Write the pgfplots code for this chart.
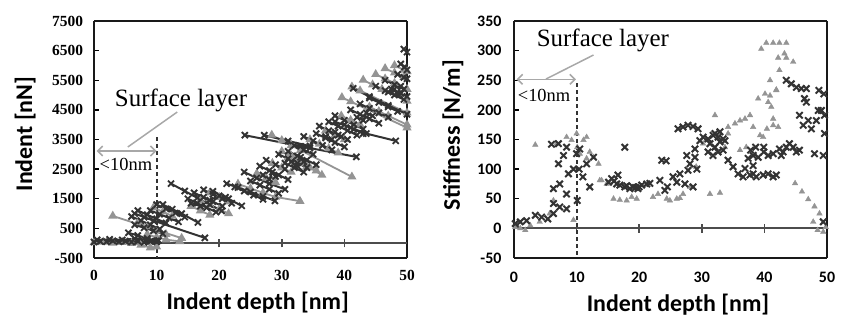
\documentclass[border=0pt]{standalone}
\usepackage{pgfplots}
\pgfplotsset{compat=1.18}
\usepackage{fontspec}
\setmainfont{Liberation Serif}
\newfontfamily\carlito{Carlito}
\usetikzlibrary{arrows.meta}
\definecolor{dk}{gray}{0.2}
\definecolor{gr}{gray}{0.58}
\definecolor{annot}{gray}{0.66}
\definecolor{zl}{gray}{0.3}

\pgfplotsset{
  common/.style={
    scale only axis, width=313bp, height=237bp,
    xmin=0, xmax=50, xtick={0,10,20,30,40,50}, xticklabels={0,10,20,30,40,50},
    xtick style={draw=none},
    ytick pos=left, tick align=inside, major tick length=5bp,
    ytick style={line width=1.4bp, black},
    separate axis lines,
    axis line style={line width=2.2bp, black!90},
    clip=false, unbounded coords=jump,
    label style={font=\carlito\bfseries\fontsize{24}{28}\selectfont},
    ylabel style={rotate=0, anchor=center},
    xlabel style={anchor=center},
  },
  dseg/.style={dk, line width=2bp, mark=x, mark size=4.3bp, mark options={line width=1.9bp, solid}},
  gseg/.style={gr, line width=1.8bp, mark=triangle*, mark size=3.5bp, mark options={solid}},
  dpt/.style={only marks, dk, mark=x, mark size=4.5bp, mark options={line width=2bp}},
  gpt/.style={only marks, gr, mark=triangle*, mark size=3.2bp},
}

\begin{document}
\begin{tikzpicture}
\path[use as bounding box] (0,0) rectangle (847bp,324bp);

% ---------------- left panel ----------------
\begin{axis}[common, at={(94bp,66bp)}, anchor=south west,
  ymin=-500, ymax=7500,
  ytick={-500,500,1500,2500,3500,4500,5500,6500,7500},
  yticklabels={-500,500,1500,2500,3500,4500,5500,6500,7500},
  xticklabel style={font=\bfseries\fontsize{15.5}{18}\selectfont, yshift=-9bp},
  yticklabel style={font=\bfseries\fontsize{15.5}{18}\selectfont, xshift=-7.5bp},
  xlabel={Indent depth [nm]},
  xlabel style={at={(axis description cs:0.523,0)}, yshift=-45bp},
  ylabel={Indent [nN]},
  ylabel style={at={(axis description cs:-0.220,0.523)}, rotate=0},
]
\draw[zl, line width=2bp] (axis cs:0,0) -- (axis cs:50,0);
\draw[zl, line width=1.6bp] (axis cs:10,-140) -- (axis cs:10,140);
\draw[zl, line width=1.6bp] (axis cs:20,-140) -- (axis cs:20,140);
\draw[zl, line width=1.6bp] (axis cs:30,-140) -- (axis cs:30,140);
\draw[zl, line width=1.6bp] (axis cs:40,-140) -- (axis cs:40,140);

\addplot[gseg] coordinates {
(0,20)(1.5,40)(3,10)(4.5,30)(6,0)(7.5,-60)(9,-150)(10,-120) (0,nan)
(3,920)(14,170) (0,nan)
(7,700)(8.5,560)(10,420)(11.5,300) (0,nan)
(9.5,1200)(11,1060)(12.5,920) (0,nan)
(8.5,300)(10,200)(11.5,120)(13.7,60) (0,nan)
(15.5,1250)(17,1100)(18.5,950) (0,nan)
(17,1450)(18.5,1300)(20,1150)(21.5,1000) (0,nan)
(18.5,1700)(20,1550)(21.5,1400) (0,nan)
(23,2000)(25,1850)(27,1700)(29,1560)(32.9,1420) (0,nan)
(26,2350)(27.5,2200)(29,2050) (0,nan)
(28.5,2700)(30,2550)(31.5,2400) (0,nan)
(28.4,3650)(30,3470)(31.5,3300)(33,3140)(41.2,2240) (0,nan)
(31,2900)(32.5,2750)(34,2600)(35.5,2450) (0,nan)
(33,2700)(34.5,2550)(36.4,2300) (0,nan)
(30,3100)(31.5,2950)(33,2800) (0,nan)
(34.5,3500)(36,3350)(37.5,3200)(39,3050) (0,nan)
(37,3800)(38.5,3650)(40,3500) (0,nan)
(39.5,4300)(41,4150)(42.5,4000) (0,nan)
(39.6,4920)(41,4780)(50,3900) (0,nan)
(41.2,5280)(42.5,5150)(50,4400) (0,nan)
(43,5510)(44.5,5350)(46,5200)(50,4800) (0,nan)
(45,5700)(46.5,5550)(48,5400)(50,5200) (0,nan)
(46.5,5900)(48,5750)(49.5,5600) (0,nan)
(48,6000)(49.5,5850)(50,5800) (0,nan)
(44,4600)(45.5,4450)(47,4300)(50,4000)
};

\addplot[dseg] coordinates {
(0,40)(1,60)(2,50)(3,80)(4,50)(5,70)(6,40)(7,70)(8,30)(9,60)(10,40) (0,nan)
(0.5,110)(2.5,130)(4.5,110)(6.5,150)(8.5,120)(10.3,90) (0,nan)
(5.5,350)(7,260)(8.5,160)(10,80) (0,nan)
(6.5,620)(8,520)(9.5,420)(11,320) (0,nan)
(6,900)(7.5,760)(9,620)(10.5,480) (0,nan)
(7,1100)(8.5,960)(10,820)(11.5,680) (0,nan)
(6.5,1000)(8,880)(9.5,760)(17.7,180) (0,nan)
(9,1100)(10.5,980)(12,850)(13.5,720) (0,nan)
(10,1300)(11.5,1160)(13,1020)(14.5,880) (0,nan)
(11,1300)(12.5,1150)(14,1000)(16.6,700) (0,nan)
(12.3,2010)(14.5,1760)(16.5,1530)(18.5,1300)(20.4,1090) (0,nan)
(15,1500)(16.5,1350)(18,1200)(19.5,1050) (0,nan)
(16,1700)(17.5,1550)(19,1400)(20.5,1250) (0,nan)
(17.5,1800)(19,1650)(20.5,1500)(22,1350) (0,nan)
(15.5,1350)(17,1250)(18.5,1450)(20,1600)(21.5,1500) (0,nan)
(19,1750)(21,1550)(23.6,1260) (0,nan)
(21.2,2010)(23,1880)(25,1730)(27,1580)(28.9,1430) (0,nan)
(24,2400)(26,2200)(28,2010)(30.5,1820) (0,nan)
(22.5,1900)(24,1760)(25.5,1620)(27,1480) (0,nan)
(25,2100)(26.5,1960)(28,1820)(29.5,1680) (0,nan)
(26.5,2600)(28,2450)(29.5,2300)(31,2150) (0,nan)
(27.5,2800)(29,2650)(30.5,2500) (0,nan)
(27,2300)(28,2150)(28.5,2400)(29,2250) (0,nan)
(29.5,3000)(31,2850)(32.5,2700)(34,2550) (0,nan)
(31,3100)(32.5,2950)(34,2800)(35.5,2650) (0,nan)
(30.5,2700)(32,2550)(33.5,2400) (0,nan)
(31.5,2750)(32.5,2600)(33,2900)(33.5,2750) (0,nan)
(32,3300)(33.5,3150)(35,3000) (0,nan)
(24.1,3645)(33,3270)(34.5,3210)(41.9,2914) (0,nan)
(27.2,3645)(31,3450)(34.5,3280) (0,nan)
(33.5,3600)(35,3450)(36.5,3300)(38,3150) (0,nan)
(35.5,3700)(37,3550)(38.5,3400)(40,3250) (0,nan)
(36,3950)(37.5,3800)(39,3650)(40.5,3500) (0,nan)
(37,3600)(38,3500)(38.5,3750)(39.5,3600) (0,nan)
(37.5,4100)(39,3950)(40.5,3800)(42,3650) (0,nan)
(38.5,4300)(40,4150)(41.5,4000)(43,3850) (0,nan)
(40,4000)(41.5,3850)(43,3700) (0,nan)
(38.5,4100)(41,3900)(43.5,3700)(48.2,3454) (0,nan)
(41,4500)(42.5,4350)(44,4200)(45.5,4050) (0,nan)
(42,4250)(43,4150)(43.5,4400)(44.5,4300) (0,nan)
(42.5,4700)(44,4550)(45.5,4400)(47,4250) (0,nan)
(44,4900)(45.5,4750)(47,4600)(48.5,4450) (0,nan)
(45,5300)(46.5,5150)(48,5000)(49.5,4850) (0,nan)
(46.5,5500)(48,5350)(49.5,5200) (0,nan)
(47,5100)(48,5200)(48.5,5050)(49,5300) (0,nan)
(47.5,5200)(49,5050)(50,4950) (0,nan)
(48.5,5700)(49.5,5600)(50,5550) (0,nan)
(49,6050)(49.6,5950)(50,5850) (0,nan)
(49.5,6550)(50,6450) (0,nan)
(41.4,5230)(44,4950)(47,4650)(50,4350)
};

\draw[dk, line width=2bp, dash pattern=on 4bp off 3bp] (axis cs:10,3584) -- (axis cs:10,-500);
\draw[annot, line width=1.6bp, {Straight Barb[length=5bp,width=10bp]}-{Straight Barb[length=5bp,width=10bp]}] (axis cs:0.4,3112) -- (axis cs:10,3112);
\draw[annot, line width=1.5bp] (axis cs:5.4,3247) -- (axis cs:13.3,4428);
\node[font=\fontsize{25}{30}\selectfont] at (axis cs:13.9,4833) {Surface layer};
\node[font=\fontsize{18.5}{22}\selectfont, fill=white, inner sep=0.5bp] at (axis cs:5.1,2673) {<10nm};
\end{axis}

% ---------------- right panel ----------------
\begin{axis}[common, at={(514bp,66bp)}, anchor=south west,
  ymin=-50, ymax=350,
  ytick={-50,0,50,100,150,200,250,300,350},
  yticklabels={-50,0,50,100,150,200,250,300,350},
  xticklabel style={font=\carlito\bfseries\fontsize{16}{19}\selectfont, yshift=-11bp},
  yticklabel style={font=\carlito\bfseries\fontsize{16}{19}\selectfont, xshift=-9bp},
  xlabel={Indent depth [nm]},
  xlabel style={at={(axis description cs:0.524,0)}, yshift=-47bp},
  ylabel={Stiffness [N/m]},
  ylabel style={at={(axis description cs:-0.195,0.519)}, rotate=0},
]
\draw[zl, line width=2bp] (axis cs:0,0) -- (axis cs:50,0);
\draw[zl, line width=1.6bp] (axis cs:10,-7) -- (axis cs:10,7);
\draw[zl, line width=1.6bp] (axis cs:20,-7) -- (axis cs:20,7);
\draw[zl, line width=1.6bp] (axis cs:30,-7) -- (axis cs:30,7);
\draw[zl, line width=1.6bp] (axis cs:40,-7) -- (axis cs:40,7);

\addplot[gpt] coordinates {
(0.2,2)(1,0)(1.8,-3)(2.6,5)(4.1,11)(5.7,25)(6.3,47)(3.4,141)(6.8,143)(8.4,154)(10,160)(9.2,149)(9.5,14)
(10.1,137)(11.1,149)(11.6,154)(10.5,126)(11.6,118)(12.1,129)(13.5,109)(14,81)(14.8,75)(12.7,120)(13.7,81)
(15.9,50)(16.9,48)(18,47)(18.8,53)(19.6,50)(22.2,53)(23,58)(24.4,50)(24.9,47)(26,50)(26.5,51)(27,58)(28.1,70)
(29.1,104)(30.2,143)(30.7,149)(31.3,58)(32.1,191)(32.9,60)(33.7,137)(34.2,160)(34.2,171)
(35.3,177)(36.1,182)(36.9,185)(37.7,191)(36.1,132)(37.1,137)(39.3,157)(39,219)(40.1,227)(40.9,224)
(40.6,213)(41.1,205)(41.4,185)(41.9,233)
(39.5,303)(40.3,313)(41.4,313)(42.4,313)(43.5,313)(43.2,295)(42.2,288)(43.5,288)(44.6,281)(42.4,267)
(40.9,250)(41.9,234)
(38.2,171)(39.8,154)(40.4,168)(41.4,174)(42.2,171)
(44.9,76)(46,62)(47,49)(48,37)(48.8,25)(47.8,11)(48.5,-3)(49.4,-6)(49.8,2)
};

\addplot[dpt] coordinates {
(0.2,8)(1,11)(2,13)(3.4,22)(4.4,19)(5.4,16)(6.3,25)(6.3,42)(7.3,36)(8.4,33)(6.3,67)(7.3,75)(8.4,58)
(7.1,109)(8.4,137)(7.1,143)(6,142)(7.9,123)(8.7,92)(9.5,100)(10.1,47)(10.4,100)(10,126)(10.5,134)
(11,87)(11.6,109)(12.1,70)(12.7,120)
(15.1,78)(15.6,84)(16.4,75)(16.9,73)(17.7,70)(18.5,67)(19,70)(19.8,67)(20.4,73)(21.2,75)(21.7,76)
(16.6,90)(16,80)(18,72)(19.4,69)(20,70)
(17.7,137)
(23.6,115)(24.3,114)(23.3,81)(24.1,64)(24.5,70)
(25.4,87)(26,78)(26.5,92)(27.3,75)(27.8,98)(28.1,109)(28.6,70)(28.9,120)(27.6,123)(26.2,168)(27,171)
(27.8,174)(28.6,172)(29.4,168)(28.9,134)(29.7,148)(29.2,100)
(30.2,154)(31,151)(31.8,157)(32.6,154)(33.4,151)(31.3,143)(32.1,137)(32.9,146)(33.7,148)(31,129)
(31.8,123)(32.6,129)(33.4,132)(32.1,160)(32.9,163)
(34.2,115)(35,104)(35.8,92)(36.6,87)(37.7,90)(38.2,92)(38.7,87)(39.8,90)(40.6,92)(41.4,87)(41.9,90)
(36.9,101)(38.2,106)(37.4,118)(38.2,123)(39,120)(37.8,132)(38.6,137)(39.9,129)(40.6,123)(41.4,126)(39.9,137)
(42.4,134)(42.7,123)(43,129)(43.5,137)(44,143)(44.6,137)(45.1,129)(45.6,132)
(43.5,250)(44.3,244)(45.1,238)(45.9,236)(46.7,236)(46.4,219)(46.7,213)(45.6,191)(46.2,174)(47,182)
(47.5,168)(48.3,182)(48.6,199)(49.1,199)(49.6,191)(48.7,233)(49.5,227)(49.6,160)(49.4,123)(48,126)(49.4,11)
};

\draw[dk, line width=2bp, dash pattern=on 4bp off 3bp] (axis cs:10,245) -- (axis cs:10,-50);
\draw[annot, line width=1.6bp, {Straight Barb[length=5bp,width=10bp]}-{Straight Barb[length=5bp,width=10bp]}] (axis cs:0.4,251.6) -- (axis cs:9.9,251.6);
\draw[annot, line width=1.5bp] (axis cs:5.1,252) -- (axis cs:12.7,292.6);
\node[font=\fontsize{25}{30}\selectfont] at (axis cs:14.2,316.7) {Surface layer};
\node[font=\fontsize{18.5}{22}\selectfont, fill=white, inner sep=0.5bp] at (axis cs:4.8,225) {<10nm};
\end{axis}
\end{tikzpicture}
\end{document}
